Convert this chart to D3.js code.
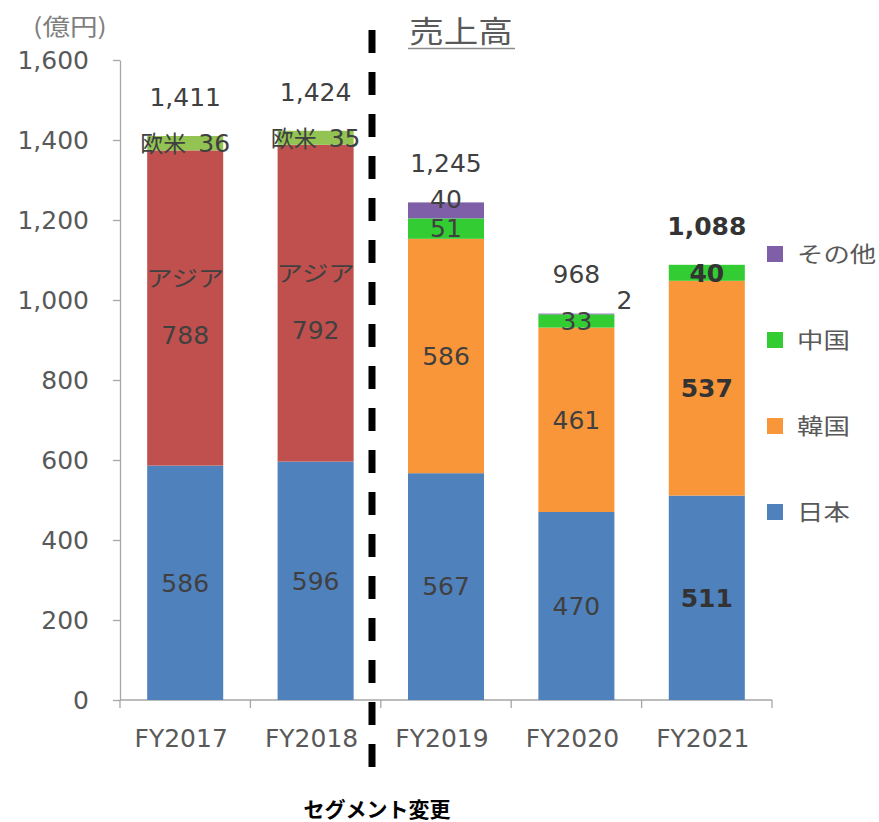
<!DOCTYPE html>
<html>
<head>
<meta charset="utf-8">
<script src="https://cdn.jsdelivr.net/npm/d3@7"></script>
<style>
  html, body { margin: 0; padding: 0; background: #fff; }
  svg { display: block; }
</style>
</head>
<body>
<svg id="chart" width="879" height="822"></svg>
<script>
// 売上高（億円）: segment values per fiscal year
const years  = ["FY2017", "FY2018", "FY2019", "FY2020", "FY2021"];
const japan  = [586, 596, 567, 470, 511];
const asia   = [788, 792, 0, 0, 0];
const korea  = [0, 0, 586, 461, 537];
const westEu = [36, 35, 0, 0, 0];
const china  = [0, 0, 51, 33, 40];
const other  = [0, 0, 40, 2, 0];
const totals = [1411, 1424, 1245, 968, 1088];
const yTicks = [0, 200, 400, 600, 800, 1000, 1200, 1400, 1600];
const legendKeys = ["その他", "中国", "韓国", "日本"];
const boldYear = "FY2021";

const series = [
  { key: "日本",   values: japan,  color: "#4F81BD" },
  { key: "アジア", values: asia,   color: "#C0504D", style: "twoLine" },
  { key: "韓国",   values: korea,  color: "#F9963A" },
  { key: "欧米",   values: westEu, color: "#92C353", style: "inline" },
  { key: "中国",   values: china,  color: "#33CC33" },
  { key: "その他", values: other,  color: "#7E5FA8" }
];
const colorOf = Object.fromEntries(series.map(s => [s.key, s.color]));

const rows = years.map((yr, i) => {
  const r = { year: yr };
  series.forEach(s => { r[s.key] = s.values[i]; });
  return r;
});

const NUM_FONT = "'DejaVu Sans', 'Noto Sans CJK JP', sans-serif";
const JP_FONT = "'Noto Sans CJK JP', sans-serif";

const svg = d3.select("#chart");
svg.append("rect").attr("width", 879).attr("height", 822).attr("fill", "#fff");

const x = d3.scaleBand().domain(years).range([120, 772])
  .paddingInner(0.417).paddingOuter(0.2085);
const y = d3.scaleLinear().domain([0, 1600]).range([700, 60]);
const bw = x.bandwidth();

// Y axis
const yAxis = svg.append("g")
  .attr("transform", "translate(120,0)")
  .call(d3.axisLeft(y).tickValues(yTicks).tickFormat(d3.format(","))
    .tickSize(7).tickSizeOuter(0).tickPadding(24));
yAxis.select(".domain").attr("stroke", "#a6a6a6").attr("stroke-width", 1.3);
yAxis.selectAll(".tick line").attr("stroke", "#a6a6a6").attr("stroke-width", 1.3);
yAxis.selectAll(".tick text")
  .attr("fill", "#595959").style("font-family", NUM_FONT).style("font-size", "25px");

// X axis: labels from the band scale, tick marks on the category boundaries
const xAxis = svg.append("g")
  .attr("transform", "translate(0,700)")
  .call(d3.axisBottom(x).tickSize(0).tickPadding(29));
xAxis.select(".domain").remove();
xAxis.selectAll(".tick text")
  .attr("dx", -4)
  .attr("fill", "#595959").style("font-family", NUM_FONT).style("font-size", "25px");

const half = x.step() * x.paddingInner() / 2;
const bounds = years.map(d => x(d) - half).concat([x(years[years.length - 1]) + bw + half]);
svg.append("line")
  .attr("x1", bounds[0]).attr("x2", bounds[bounds.length - 1])
  .attr("y1", y(0)).attr("y2", y(0))
  .attr("stroke", "#a6a6a6").attr("stroke-width", 1.3);
svg.append("g").selectAll("line").data(bounds).join("line")
  .attr("x1", d => d).attr("x2", d => d)
  .attr("y1", y(0)).attr("y2", y(0) + 8)
  .attr("stroke", "#a6a6a6").attr("stroke-width", 1.3);

// Stacked bars
const stack = d3.stack().keys(series.map(s => s.key));
const layers = stack(rows);

const barG = svg.append("g");
layers.forEach(layer => {
  barG.selectAll(null)
    .data(layer.filter(d => d[1] - d[0] > 0))
    .join("rect")
    .attr("x", d => x(d.data.year))
    .attr("y", d => y(d[1]))
    .attr("width", bw)
    .attr("height", d => y(d[0]) - y(d[1]))
    .attr("fill", colorOf[layer.key]);
});

// Label centres per bar; a thin segment whose label would collide with the one
// below it is lifted so the two numbers stay readable.
const lastCy = {};
const labelG = svg.append("g");
layers.forEach(layer => {
  const s = series.find(t => t.key === layer.key);
  layer.forEach(d => {
    const v = d[1] - d[0];
    if (v <= 0) return;
    const yr = d.data.year;
    const bold = yr === boldYear;
    const cx = x(yr) + bw / 2;
    let cy = (y(d[0]) + y(d[1])) / 2;
    const fill = bold ? "#333" : "#404040";
    if (s.style === "twoLine") {
      labelG.append("text")
        .attr("transform", `translate(${cx},${cy - 30}) scale(1.2,1)`)
        .attr("text-anchor", "middle").attr("dy", "0.35em")
        .style("font-family", JP_FONT).style("font-size", "22px")
        .attr("fill", fill).text(s.key);
      labelG.append("text")
        .attr("x", cx).attr("y", cy + 27)
        .attr("text-anchor", "middle").attr("dy", "0.35em")
        .style("font-family", NUM_FONT).style("font-size", "25px")
        .attr("fill", fill).text(v);
      lastCy[yr] = cy - 30;
    } else if (s.style === "inline") {
      const t = labelG.append("text")
        .attr("x", cx).attr("y", cy)
        .attr("text-anchor", "middle").attr("dy", "0.35em")
        .style("font-family", NUM_FONT).style("font-size", "25px")
        .attr("fill", fill);
      t.append("tspan").style("font-family", JP_FONT).style("font-size", "23px").text(s.key);
      t.append("tspan").attr("dx", 12).text(v);
      lastCy[yr] = cy;
    } else if (v < 10) {
      // too thin to hold its label: put it beside the bar top
      labelG.append("text")
        .attr("x", x(yr) + bw + 2).attr("y", y(d[1]) - 13)
        .attr("dy", "0.35em")
        .style("font-family", NUM_FONT).style("font-size", "25px")
        .attr("fill", fill).text(v);
    } else {
      if (lastCy[yr] !== undefined && lastCy[yr] - cy < 24) cy = lastCy[yr] - 29;
      labelG.append("text")
        .attr("x", cx).attr("y", cy)
        .attr("text-anchor", "middle").attr("dy", "0.35em")
        .style("font-family", NUM_FONT).style("font-size", "25px")
        .style("font-weight", bold ? "bold" : "normal")
        .attr("fill", fill).text(v);
      lastCy[yr] = cy;
    }
  });
});

// Totals above each bar
const topOf = rows.map(r => d3.sum(series, s => r[s.key]));
svg.append("g").selectAll("text").data(years).join("text")
  .attr("x", d => x(d) + bw / 2)
  .attr("y", (d, i) => y(topOf[i]) - 39)
  .attr("text-anchor", "middle").attr("dy", "0.35em")
  .style("font-family", NUM_FONT).style("font-size", "25px")
  .style("font-weight", d => d === boldYear ? "bold" : "normal")
  .attr("fill", d => d === boldYear ? "#333" : "#404040")
  .text((d, i) => d3.format(",")(totals[i]));

// Legend
const legend = svg.append("g").selectAll("g").data(legendKeys).join("g")
  .attr("transform", (d, i) => `translate(767,${254 + i * 86})`);
legend.append("rect")
  .attr("x", 0).attr("y", -8).attr("width", 16).attr("height", 16)
  .attr("fill", d => colorOf[d]);
legend.append("text")
  .attr("transform", "translate(30,0) scale(1.2,1)")
  .attr("dy", "0.35em")
  .style("font-family", JP_FONT).style("font-size", "22px")
  .attr("fill", "#595959").text(d => d);

// Title with underline
svg.append("text")
  .attr("transform", "translate(461,31) scale(1.15,1)")
  .attr("text-anchor", "middle").attr("dy", "0.35em")
  .style("font-family", JP_FONT).style("font-size", "30px")
  .attr("fill", "#595959").text("売上高");
svg.append("line")
  .attr("x1", 408).attr("x2", 515).attr("y1", 48.5).attr("y2", 48.5)
  .attr("stroke", "#8c8c8c").attr("stroke-width", 1.5);

// Unit label
svg.append("text")
  .attr("transform", "translate(70,27) scale(1.2,1)")
  .attr("text-anchor", "middle").attr("dy", "0.35em")
  .style("font-family", JP_FONT).style("font-size", "23px")
  .attr("fill", "#7f7f7f").text("(億円)");

// Segment change divider
svg.append("line")
  .attr("x1", 372).attr("x2", 372).attr("y1", 30).attr("y2", 767)
  .attr("stroke", "#000").attr("stroke-width", 7)
  .attr("stroke-dasharray", "23 19");
svg.append("text")
  .attr("x", 377).attr("y", 810)
  .attr("text-anchor", "middle").attr("dy", "0.35em")
  .style("font-family", JP_FONT).style("font-size", "21px").style("font-weight", "bold")
  .attr("fill", "#000").text("セグメント変更");
</script>
</body>
</html>
